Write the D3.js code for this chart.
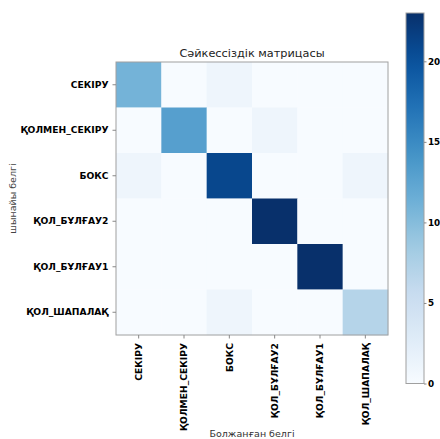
<!DOCTYPE html>
<html><head><meta charset="utf-8">
<script src="https://cdn.jsdelivr.net/npm/d3@7/dist/d3.min.js"></script>
<style>body{margin:0;background:#fff}</style>
</head><body>
<svg id="c" width="440" height="439"></svg>
<script>
const classes = ["СЕКІРУ","ҚОЛМЕН_СЕКІРУ","БОКС","ҚОЛ_БҰЛҒАУ2","ҚОЛ_БҰЛҒАУ1","ҚОЛ_ШАПАЛАҚ"];
const matrix = [
  [11,0,1,0,0,0],
  [0,13,0,1,0,0],
  [1,0,21,0,0,1],
  [0,0,0,23,0,0],
  [0,0,0,0,23,0],
  [0,0,1,0,0,7]
];
const cbTicks = [0,5,10,15,20];
const title = "Сәйкессіздік матрицасы";
const xLabel = "Болжанған белгі";
const yLabel = "шынайы белгі";

const svg = d3.select("#c");
const font = "DejaVu Sans, sans-serif";
const L=116,R=388,T=62,B=335;
const vmax = d3.max(matrix.flat());
const blues = ["#f7fbff","#deebf7","#c6dbef","#9ecae1","#6baed6","#4292c6","#2171b5","#08519c","#08306b"];
const color = d3.scaleLinear().domain(blues.map((d,i)=>i/8*vmax)).range(blues).interpolate(d3.interpolateRgb).clamp(true);

const x = d3.scaleBand().domain(d3.range(classes.length)).range([L,R]);
const y = d3.scaleBand().domain(d3.range(classes.length)).range([T,B]);

const cells = [];
matrix.forEach((row,i)=>row.forEach((v,j)=>cells.push({i,j,v})));
svg.append("g").selectAll("rect").data(cells).join("rect")
  .attr("x",d=>x(d.j)).attr("y",d=>y(d.i))
  .attr("width",x.bandwidth()+0.3).attr("height",y.bandwidth()+0.3)
  .attr("fill",d=>color(d.v));

svg.append("rect").attr("x",L).attr("y",T).attr("width",R-L).attr("height",B-T)
  .attr("fill","none").attr("stroke","#a0a0a0").attr("stroke-width",1);

// axes
const xAxis = svg.append("g").attr("transform",`translate(0,${B})`)
  .call(d3.axisBottom(x).tickSize(3.5).tickPadding(4).tickFormat(i=>classes[i]));
xAxis.select(".domain").remove();
xAxis.selectAll("line").attr("stroke","#888");
xAxis.selectAll("text").attr("transform","rotate(-90)").attr("text-anchor","end")
  .attr("x",-8).attr("y",0).attr("dy","0.35em")
  .attr("font-family",font).attr("font-size",9.2).attr("font-weight","bold").attr("fill","#000");

const yAxis = svg.append("g").attr("transform",`translate(${L},0)`)
  .call(d3.axisLeft(y).tickSize(3.5).tickPadding(4).tickFormat(i=>classes[i]));
yAxis.select(".domain").remove();
yAxis.selectAll("line").attr("stroke","#888");
yAxis.selectAll("text").attr("font-family",font).attr("font-size",9.2).attr("font-weight","bold").attr("fill","#000");

svg.append("text").attr("x",(L+R)/2).attr("y",57).attr("text-anchor","middle")
  .attr("font-family",font).attr("font-size",11.3).attr("fill","#222").text(title);
svg.append("text").attr("x",(L+R)/2).attr("y",437).attr("text-anchor","middle")
  .attr("font-family",font).attr("font-size",9.5).attr("fill","#333").text(xLabel);
svg.append("text").attr("transform",`translate(16,${(T+B)/2}) rotate(-90)`).attr("text-anchor","middle")
  .attr("font-family",font).attr("font-size",9.5).attr("fill","#444").text(yLabel);

// colorbar
const cbL=406, cbW=18, cbT=13, cbB=383.5;
const cy = d3.scaleLinear().domain([0,vmax]).range([cbB,cbT]);
const defs = svg.append("defs");
const grad = defs.append("linearGradient").attr("id","g").attr("x1",0).attr("y1",1).attr("x2",0).attr("y2",0);
d3.range(0,1.0001,0.05).forEach(t=>grad.append("stop").attr("offset",t).attr("stop-color",color(t*vmax)));
svg.append("rect").attr("x",cbL).attr("y",cbT).attr("width",cbW).attr("height",cbB-cbT)
  .attr("fill","url(#g)").attr("stroke","#a0a0a0").attr("stroke-width",1);
const cAxis = svg.append("g").attr("transform",`translate(${cbL+cbW},0)`)
  .call(d3.axisRight(cy).tickValues(cbTicks).tickSize(2.5).tickPadding(1.5).tickFormat(d3.format("d")));
cAxis.select(".domain").remove();
cAxis.selectAll("line").attr("stroke","#888");
cAxis.selectAll("text").attr("font-family",font).attr("font-size",8.8).attr("font-weight","bold").attr("fill","#000");
</script>
</body></html>
